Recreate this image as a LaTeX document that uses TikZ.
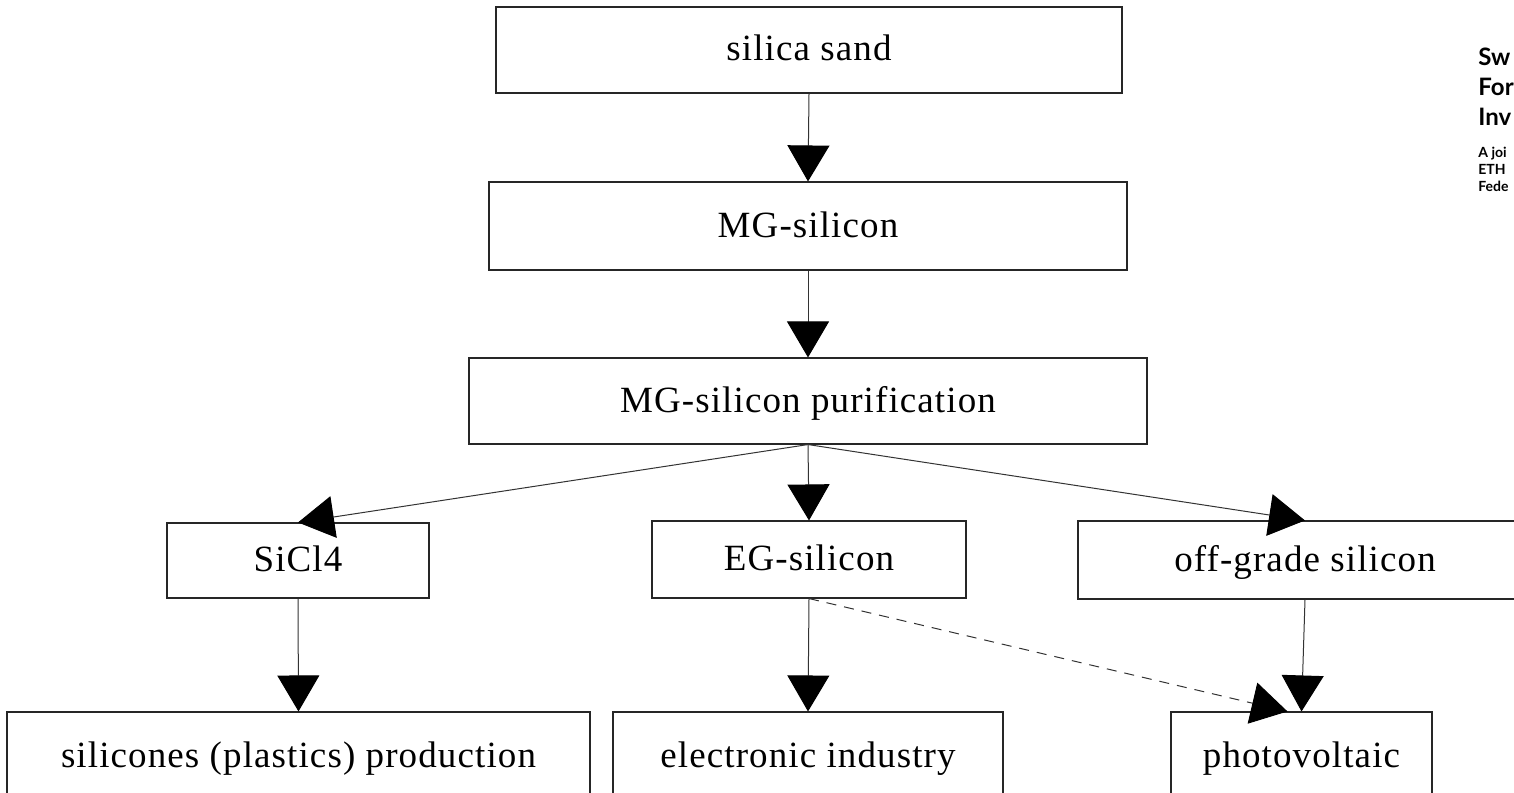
\documentclass[tikz,border=0pt]{standalone}
\usepackage{fontspec}
\setmainfont{Liberation Serif}[LetterSpace=3]
\newfontfamily\hdrfont{Lato}
\usetikzlibrary{arrows.meta,calc}
\tikzset{
  x=0.5pt,y=-0.5pt,
  box/.style={draw=black!85,line width=0.55pt,inner sep=0pt,anchor=center,
    text height=15pt,text depth=4pt,
    font=\fontsize{18.5}{21}\selectfont},
  conn/.style={draw=black!80,line width=0.5pt,-{Triangle[length=18pt,width=21pt,color=black]}},
  dconn/.style={conn,dash pattern=on 5pt off 4pt},
  hdrbig/.style={anchor=base west,inner sep=0pt,font=\hdrfont\bfseries\fontsize{12}{14}\selectfont},
  hdrsmall/.style={anchor=base west,inner sep=0pt,font=\hdrfont\bfseries\fontsize{7}{8}\selectfont}
}
\begin{document}
\begin{tikzpicture}
\useasboundingbox (0,0) rectangle (1514,792);
\clip (0,0) rectangle (1514,792);
\fill[white] (0,0) rectangle (1514,792);
\node[box,minimum width=313pt,minimum height=43pt] (sand) at (809,50) {silica sand};
\node[box,minimum width=319pt,minimum height=44pt] (mg) at (808,226) {MG-silicon};
\node[box,minimum width=339pt,minimum height=43pt] (pur) at (808,401) {MG-silicon purification};
\node[box,minimum width=131pt,minimum height=37.5pt] (sic) at (298,560.5) {SiCl4};
\node[box,minimum width=157pt,minimum height=38.5pt] (eg) at (809,559.5) {EG-silicon};
\node[box,minimum width=227pt,minimum height=39pt] (og) at (1305,560) {off-grade silicon};
\node[box,minimum width=291.5pt,minimum height=44pt] (sil) at (298.5,756) {silicones (plastics) production};
\node[box,minimum width=195pt,minimum height=44pt] (el) at (808,756) {electronic industry};
\node[box,minimum width=130.5pt,minimum height=44pt] (pv) at (1301.5,756) {photovoltaic};
\coordinate (pvd) at ($(pv.north)+(-14,0)$);
\draw[conn] (sand.south) -- (mg.north);
\draw[conn] (mg.south) -- (pur.north);
\draw[conn] (pur.south) -- (sic.north);
\draw[conn] (pur.south) -- (eg.north);
\draw[conn] (pur.south) -- (og.north);
\draw[conn] (sic.south) -- (sil.north);
\draw[conn] (eg.south) -- (el.north);
\draw[conn] (og.south) -- (pv.north);
\draw[dconn] (eg.south) -- (pvd);
\node[hdrbig] (h1) at (1478,66) {Sw};
\node[hdrbig] (h2) at (1478,96) {For};
\node[hdrbig] (h3) at (1478,126) {Inv};
\node[hdrsmall] (h4) at (1478,157) {A joi};
\node[hdrsmall] (h5) at (1478,174) {ETH};
\node[hdrsmall] (h6) at (1478,191) {Fede};
\end{tikzpicture}
\end{document}
